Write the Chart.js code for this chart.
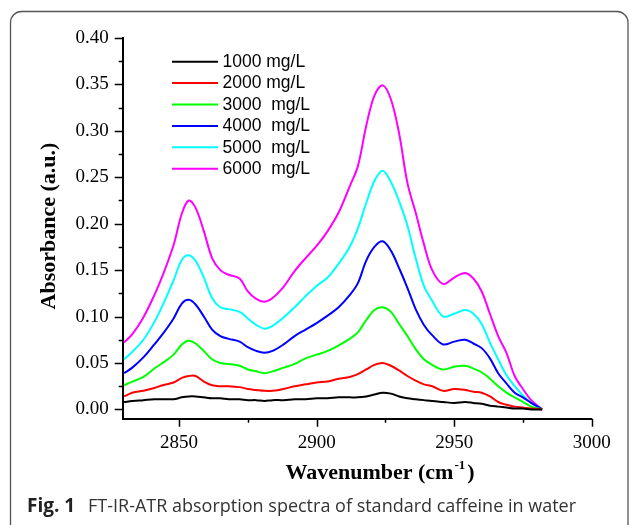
<!DOCTYPE html>
<html>
<head>
<meta charset="utf-8">
<title>FT-IR-ATR caffeine spectra</title>
<script src="https://cdn.jsdelivr.net/npm/chart.js@4.4.1/dist/chart.umd.min.js"></script>
<style>
body{margin:0;background:#fff;}
#wrap{width:629px;height:525px;}
</style>
</head>
<body>
<div id="wrap"><canvas id="spectraChart" width="629" height="525"></canvas></div>
<script>
//data
const wavenumbers = [2830, 2833, 2837, 2841, 2844, 2848, 2851, 2853.5, 2856, 2859, 2862, 2865, 2868, 2872, 2875, 2878, 2881, 2884, 2888, 2892, 2896, 2900, 2904, 2908, 2912, 2915, 2918, 2921, 2924, 2927, 2930, 2933, 2936, 2939, 2942, 2946, 2950, 2954, 2957, 2960, 2963, 2966, 2969, 2972, 2975, 2978, 2982];

const abs1000 = [0.008, 0.009, 0.010, 0.011, 0.011, 0.011, 0.013, 0.014, 0.014, 0.013, 0.012, 0.012, 0.011, 0.011, 0.010, 0.010, 0.009, 0.010, 0.010, 0.011, 0.011, 0.012, 0.012, 0.013, 0.013, 0.013, 0.014, 0.016, 0.018, 0.017, 0.014, 0.012, 0.011, 0.010, 0.009, 0.008, 0.007, 0.008, 0.007, 0.006, 0.004, 0.003, 0.002, 0.001, 0.001, 0.000, 0.000];
const abs2000 = [0.014, 0.018, 0.020, 0.023, 0.026, 0.029, 0.034, 0.036, 0.036, 0.030, 0.026, 0.025, 0.025, 0.024, 0.022, 0.021, 0.020, 0.020, 0.022, 0.025, 0.027, 0.029, 0.030, 0.033, 0.035, 0.038, 0.043, 0.048, 0.050, 0.047, 0.042, 0.036, 0.031, 0.027, 0.025, 0.020, 0.022, 0.021, 0.019, 0.018, 0.014, 0.008, 0.005, 0.003, 0.002, 0.001, 0.000];
const abs3000 = [0.026, 0.030, 0.035, 0.044, 0.050, 0.059, 0.070, 0.074, 0.071, 0.063, 0.054, 0.050, 0.049, 0.047, 0.043, 0.041, 0.039, 0.041, 0.045, 0.049, 0.055, 0.059, 0.063, 0.069, 0.076, 0.083, 0.096, 0.107, 0.110, 0.105, 0.092, 0.079, 0.065, 0.054, 0.048, 0.043, 0.046, 0.047, 0.044, 0.040, 0.033, 0.025, 0.018, 0.013, 0.008, 0.003, 0.000];
const abs4000 = [0.039, 0.045, 0.056, 0.070, 0.081, 0.098, 0.114, 0.118, 0.113, 0.100, 0.086, 0.079, 0.076, 0.073, 0.067, 0.063, 0.061, 0.063, 0.070, 0.079, 0.086, 0.093, 0.101, 0.110, 0.123, 0.136, 0.160, 0.175, 0.181, 0.171, 0.152, 0.131, 0.108, 0.091, 0.080, 0.070, 0.073, 0.075, 0.071, 0.066, 0.055, 0.039, 0.028, 0.018, 0.013, 0.007, 0.000];
const abs5000 = [0.054, 0.062, 0.075, 0.094, 0.112, 0.139, 0.161, 0.166, 0.160, 0.142, 0.120, 0.110, 0.108, 0.105, 0.098, 0.091, 0.087, 0.090, 0.099, 0.110, 0.122, 0.133, 0.142, 0.157, 0.175, 0.195, 0.222, 0.246, 0.257, 0.245, 0.224, 0.198, 0.163, 0.133, 0.117, 0.100, 0.103, 0.107, 0.103, 0.092, 0.072, 0.054, 0.037, 0.025, 0.015, 0.007, 0.000];
const abs6000 = [0.072, 0.081, 0.099, 0.123, 0.144, 0.177, 0.211, 0.225, 0.217, 0.192, 0.163, 0.150, 0.145, 0.141, 0.127, 0.119, 0.116, 0.120, 0.132, 0.149, 0.163, 0.176, 0.192, 0.212, 0.240, 0.262, 0.305, 0.338, 0.349, 0.334, 0.297, 0.244, 0.212, 0.178, 0.150, 0.135, 0.142, 0.147, 0.141, 0.127, 0.103, 0.079, 0.061, 0.036, 0.022, 0.010, 0.000];

const seriesLabels = ['1000 mg/L', '2000 mg/L', '3000  mg/L', '4000  mg/L', '5000  mg/L', '6000  mg/L'];
const seriesValues = [abs1000, abs2000, abs3000, abs4000, abs5000, abs6000];
const seriesColors = ['#000000', '#ff0000', '#00ff00', '#0000ff', '#00ffff', '#ff00ff'];

const xTickLabels = [2850, 2900, 2950, 3000];
const xMinorTicks = [2875, 2925, 2975];
const yTickLabels = [0.00, 0.05, 0.10, 0.15, 0.20, 0.25, 0.30, 0.35, 0.40];
const yMinorTicks = [0.025, 0.075, 0.125, 0.175, 0.225, 0.275, 0.325, 0.375];

const xTitle = 'Wavenumber (cm';
const yTitle = 'Absorbance (a.u.)';
const captionBold = 'Fig. 1';
const captionText = 'FT-IR-ATR absorption spectra of standard caffeine in water';

//build datasets
function makeDatasets(){
    const sets = [];
    for (let i = 0; i < seriesValues.length; i++) {
        sets.push({
            label: seriesLabels[i],
            data: wavenumbers.map((w, j) => ({x: w, y: seriesValues[i][j]})),
            borderColor: seriesColors[i],
            borderWidth: 2,
            pointRadius: 0,
            tension: 0.35,
            fill: false
        });
    }
    return sets;
}

//frame, tick marks, titles, legend and caption
const decorations = {
    id: 'decorations',
    afterDraw(chart){
        const ctx = chart.ctx;
        const area = chart.chartArea;
        const xs = chart.scales.x;
        const ys = chart.scales.y;
        ctx.save();

        // rounded frame
        ctx.strokeStyle = '#555';
        ctx.lineWidth = 1.3;
        ctx.beginPath();
        ctx.roundRect(10.5, 11.5, 617.5, 530, 11);
        ctx.stroke();

        // ticks
        ctx.strokeStyle = '#000';
        ctx.lineWidth = 1.5;
        ctx.beginPath();
        yTickLabels.forEach(v => {
            const py = Math.round(ys.getPixelForValue(v)) + 0.5;
            ctx.moveTo(area.left - 8, py); ctx.lineTo(area.left, py);
        });
        yMinorTicks.forEach(v => {
            const py = Math.round(ys.getPixelForValue(v)) + 0.5;
            ctx.moveTo(area.left - 4, py); ctx.lineTo(area.left, py);
        });
        xTickLabels.forEach(v => {
            const px = Math.round(xs.getPixelForValue(v)) + 0.5;
            ctx.moveTo(px, area.bottom); ctx.lineTo(px, area.bottom + 8);
        });
        xMinorTicks.forEach(v => {
            const px = Math.round(xs.getPixelForValue(v)) + 0.5;
            ctx.moveTo(px, area.bottom); ctx.lineTo(px, area.bottom + 4);
        });
        ctx.stroke();

        // y title
        ctx.fillStyle = '#000';
        ctx.font = 'bold 22px "Liberation Serif"';
        ctx.textAlign = 'center';
        ctx.textBaseline = 'alphabetic';
        ctx.save();
        ctx.translate(54.5, 226);
        ctx.rotate(-Math.PI / 2);
        ctx.fillText(yTitle, 0, 0);
        ctx.restore();

        // x title with superscript
        ctx.textAlign = 'left';
        const w1 = ctx.measureText(xTitle).width;
        ctx.font = 'bold 13px "Liberation Serif"';
        const w2 = ctx.measureText('-1').width;
        ctx.font = 'bold 22px "Liberation Serif"';
        const w3 = ctx.measureText(')').width;
        let tx = 380 - (w1 + w2 + 3 + w3) / 2;
        ctx.fillText(xTitle, tx, 479);
        ctx.font = 'bold 13px "Liberation Serif"';
        ctx.fillText('-1', tx + w1 + 1, 469);
        ctx.font = 'bold 22px "Liberation Serif"';
        ctx.fillText(')', tx + w1 + w2 + 3, 479);

        // legend
        ctx.font = '17.5px "Liberation Sans"';
        ctx.textBaseline = 'middle';
        ctx.lineWidth = 2;
        for (let i = 0; i < seriesLabels.length; i++) {
            const ly = 61.7 + i * 21.4;
            ctx.strokeStyle = seriesColors[i];
            ctx.beginPath();
            ctx.moveTo(172, ly); ctx.lineTo(218, ly);
            ctx.stroke();
            ctx.fillStyle = '#000';
            ctx.fillText(seriesLabels[i], 222.5, ly + 0.5);
        }

        // caption
        ctx.textBaseline = 'alphabetic';
        ctx.fillStyle = '#222';
        ctx.font = 'bold 19px "Open Sans"';
        ctx.fillText(captionBold, 27, 512);
        ctx.fillStyle = '#333';
        ctx.font = '18px "Open Sans"';
        ctx.fillText(captionText, 88, 512);

        ctx.restore();
    }
};

const ctx = document.getElementById('spectraChart').getContext('2d');
const spectraChart = new Chart(ctx, {
    type: 'line',
    data: { datasets: makeDatasets() },
    plugins: [decorations],
    options: {
        responsive: false,
        animation: false,
        devicePixelRatio: 1,
        layout: { padding: { top: 38, right: 37.3, left: 0, bottom: 0 } },
        plugins: {
            legend: { display: false },
            tooltip: { enabled: false }
        },
        scales: {
            x: {
                type: 'linear',
                min: 2829.5,
                max: 3000,
                afterFit: (scale) => { scale.height = 106.3; },
                afterBuildTicks: (scale) => { scale.ticks = xTickLabels.map(v => ({value: v})); },
                grid: { display: false, drawTicks: false },
                border: { display: true, color: '#000', width: 2 },
                ticks: {
                    padding: 13,
                    color: '#000',
                    font: { family: 'Liberation Serif', size: 19 },
                    callback: (v) => String(v)
                }
            },
            y: {
                type: 'linear',
                min: -0.01,
                max: 0.40,
                afterFit: (scale) => { scale.width = 122.7; },
                afterBuildTicks: (scale) => { scale.ticks = yTickLabels.map(v => ({value: v})); },
                grid: { display: false, drawTicks: false },
                border: { display: true, color: '#000', width: 2 },
                ticks: {
                    padding: 14,
                    color: '#000',
                    font: { family: 'Liberation Serif', size: 19 },
                    callback: (v) => Number(v).toFixed(2)
                }
            }
        }
    }
});
</script>
</body>
</html>
